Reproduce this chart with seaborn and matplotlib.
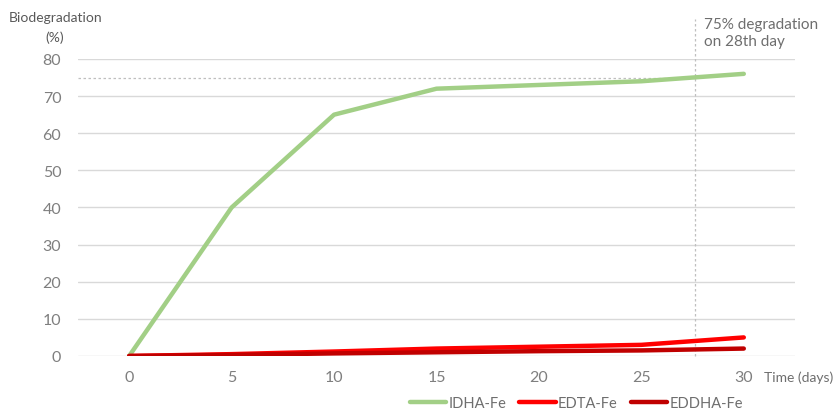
import pandas as pd
import matplotlib
matplotlib.use("Agg")
import matplotlib.pyplot as plt
import seaborn as sns

# Data
days = [0, 5, 10, 15, 20, 25, 30]
idha_fe = [0, 40, 65, 72, 73, 74, 76]
edta_fe = [0, 0.5, 1.2, 2.0, 2.5, 3.0, 5.0]
eddha_fe = [0, 0.3, 0.7, 1.0, 1.3, 1.5, 2.0]
series_names = ["IDHA-Fe", "EDTA-Fe", "EDDHA-Fe"]
palette = {"IDHA-Fe": "#A2CF86", "EDTA-Fe": "#FF0000", "EDDHA-Fe": "#C00000"}
y_ticks = [0, 10, 20, 30, 40, 50, 60, 70, 80]
marker_day = 27.6
marker_pct = 75

sns.set_theme(style="white")
plt.rcParams['font.family'] = ['Lato', 'DejaVu Sans']

df = pd.DataFrame({
    "day": days * 3,
    "value": idha_fe + edta_fe + eddha_fe,
    "series": [s for s in series_names for _ in days],
})

fig = plt.figure(figsize=(8.33, 4.10), dpi=100)
ax = fig.add_axes([0.0936, 0.1293, 0.8608, 0.7244])

sns.lineplot(data=df, x="day", y="value", hue="series", hue_order=series_names,
             palette=palette, linewidth=3.2, ax=ax, legend=True)

ax.set_xlim(-2.5, 32.5)
ax.set_ylim(0, 80)
ax.set_xticks(days)
ax.set_yticks(y_ticks)
ax.grid(axis="y", color="#D9D9D9", linewidth=1)
ax.set_axisbelow(True)
for sp in ax.spines.values():
    sp.set_visible(False)
ax.tick_params(axis="both", length=0, labelsize=11.5, labelcolor="#7F7F7F")
ax.tick_params(axis="y", pad=12)
ax.tick_params(axis="x", pad=10)
ax.set_xlabel("")
ax.set_ylabel("")

# reference lines
ax.hlines(marker_pct, -2.5, marker_day, colors="#BFBFBF", linestyles=(0, (2, 2)), linewidth=0.9, zorder=1)
ax.axvline(marker_day, ymin=0, ymax=1.135, color="#BFBFBF", linestyle=(0, (2, 2)),
           linewidth=0.9, clip_on=False, zorder=1)

# texts
fig.text(0.010, 0.957, "Biodegradation", fontsize=10, color="#595959", va="center", ha="left")
fig.text(0.066, 0.908, "(%)", fontsize=10, color="#595959", va="center", ha="center")
fig.text(0.845, 0.918, "75% degradation\non 28th day", fontsize=11, color="#6E6E6E",
         va="center", ha="left", linespacing=1.3)
fig.text(0.917, 0.078, "Time (days)", fontsize=10, color="#6E6E6E", va="center", ha="left")

leg = ax.legend(loc="center", bbox_to_anchor=(0.695, -0.158), ncol=3, frameon=False,
                fontsize=10.5, handlelength=2.5, handletextpad=0.15, columnspacing=0.9)
for t in leg.get_texts():
    t.set_color("#6E6E6E")

fig.savefig("out.png", dpi=100)
